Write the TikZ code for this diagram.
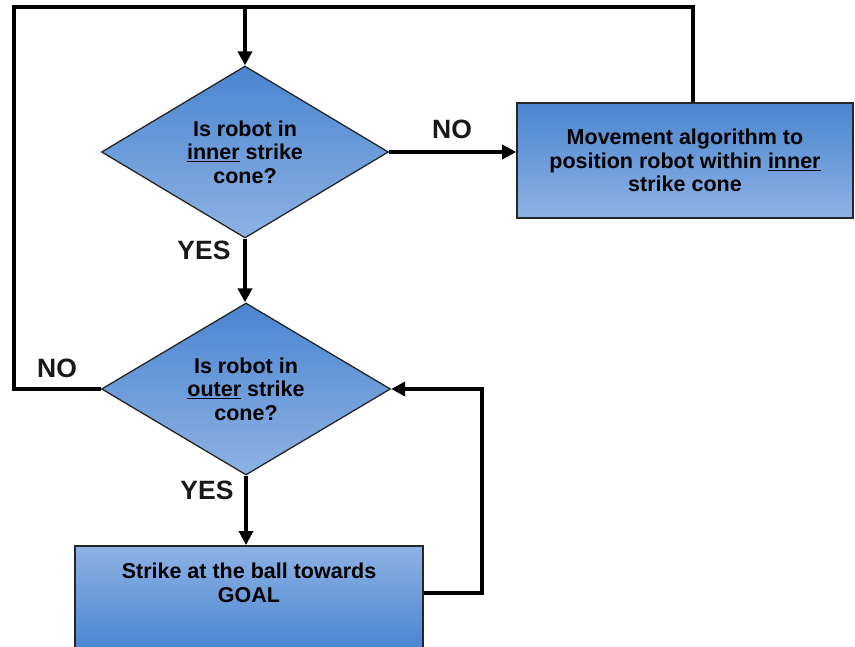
\documentclass[tikz,border=0pt]{standalone}
\usepackage{fontspec}
\setmainfont{Liberation Sans}
\usetikzlibrary{shapes.geometric,arrows.meta}
\definecolor{boxtop}{RGB}{74,133,208}
\definecolor{boxbot}{RGB}{142,178,228}
\begin{document}
\begin{tikzpicture}[x=1pt,y=-1pt,
  bodytext/.style={font=\bfseries\fontsize{21.5}{23.5}\selectfont, align=center, text=black},
  decision/.style={diamond, aspect=1.7, draw=black!85, line width=1.3pt, top color=boxtop,
    bottom color=boxbot, inner sep=0pt, bodytext},
  process/.style={rectangle, draw=black!85, line width=1.6pt, inner sep=0pt, bodytext},
  flowlabel/.style={font=\bfseries\fontsize{26.5}{28}\selectfont, text=black!90},
  flow/.style={line width=3.6pt, -{Triangle[length=14pt,width=14pt]}},
  wire/.style={line width=3.6pt}]
\useasboundingbox (0,0) rectangle (855,646);
\clip (0,0) rectangle (855,646);
\fill[white] (0,0) rectangle (855,646);

% decisions
\node[decision, minimum width=287pt, minimum height=172pt] (inner) at (245,152)
  {Is robot in\\\underline{inner} strike\\cone?};
\node[decision, minimum width=289pt, minimum height=172pt] (outer) at (246,389)
  {Is robot in\\\underline{outer} strike\\cone?};

% actions
\node[process, minimum width=336pt, minimum height=115pt,
      top color=boxtop, bottom color=boxbot] (move) at (685,160.5)
  {Movement algorithm to\\position robot within \underline{inner}\\strike cone};
\node[process, minimum width=348pt, minimum height=104pt, anchor=north,
      top color=boxbot, bottom color=boxtop] (strike) at (249,545) {};
\node[bodytext] (striketext) at (249,583) {Strike at the ball towards\\GOAL};

% route points
\coordinate (topL) at (14,7);
\coordinate (topR) at (693,7);
\coordinate (loopR) at (482,593);

% connectors
\draw[flow] (inner.east) -- (inner.east -| move.west);
\draw[flow] (inner.south) -- (inner.south |- outer.north);
\draw[flow] (outer.south) -- (outer.south |- strike.north);
\draw[flow] (outer.west) -| (topL) -| (inner.north);
\draw[wire] (topR |- move.north) -- (topR) -- (inner.north |- topR);
\draw[flow] (strike.east |- loopR) -- (loopR) |- (outer.east);

% branch labels
\node[flowlabel] (noInner) at (452,129) {NO};
\node[flowlabel] (yesInner) at (204,250) {YES};
\node[flowlabel] (noOuter) at (57,368) {NO};
\node[flowlabel] (yesOuter) at (207,490) {YES};
\end{tikzpicture}
\end{document}
